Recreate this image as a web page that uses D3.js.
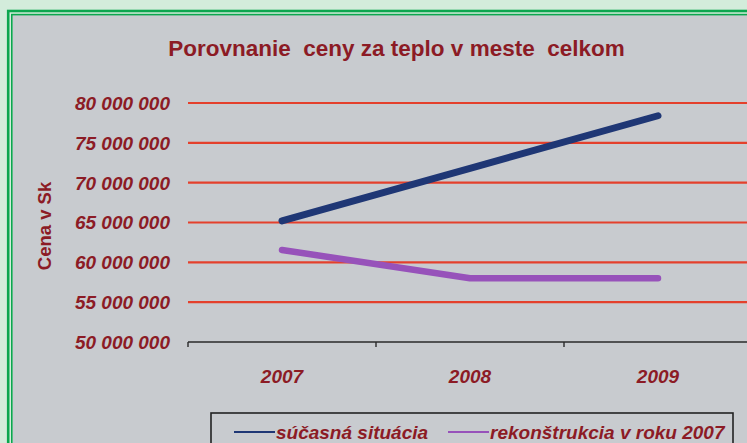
<!DOCTYPE html>
<html>
<head>
<meta charset="utf-8">
<script src="https://cdn.jsdelivr.net/npm/d3@7"></script>
<style>
  html, body { margin: 0; padding: 0; background: #d3ecdb; }
  svg { display: block; font-family: "Liberation Sans", Arial, sans-serif; }
</style>
</head>
<body>
<svg id="chart"></svg>
<script>
'use strict';

var years = ['2007', '2008', '2009'];
var currentValues = [65200000, 71800000, 78400000];
var reconstructionValues = [61550000, 58000000, 58000000];
var seriesNames = ['súčasná situácia', 'rekonštrukcia v roku 2007'];
var seriesColors = ['#1f3775', '#9752ba'];
var yTicks = [50000000, 55000000, 60000000, 65000000, 70000000, 75000000, 80000000];

var width = 747;
var height = 443;
var textColor = '#8c1b25';

var svg = d3.select('#chart')
  .attr('width', width)
  .attr('height', height);

// outer green frame + gray panel
svg.append('rect')
  .attr('x', 12.5).attr('y', 15)
  .attr('width', width).attr('height', height)
  .style('fill', '#c8cbcf');

svg.append('rect')
  .attr('x', 8.2).attr('y', 11)
  .attr('width', width).attr('height', height)
  .style('fill', 'none')
  .style('stroke', '#0ba64e')
  .style('stroke-width', 2.6);

svg.append('rect')
  .attr('x', 11.8).attr('y', 14.6)
  .attr('width', width).attr('height', height)
  .style('fill', 'none')
  .style('stroke', '#0ba64e')
  .style('stroke-width', 1.6);

svg.append('text')
  .attr('x', 396.5)
  .attr('y', 56)
  .attr('text-anchor', 'middle')
  .style('font-size', '22.5px')
  .style('font-weight', 'bold')
  .style('fill', textColor)
  .style('white-space', 'pre')
  .text('Porovnanie  ceny za teplo v meste  celkom');

var x = d3.scaleBand()
  .domain(years)
  .range([188, 752]);

var y = d3.scaleLinear()
  .domain([50000000, 80000000])
  .range([342, 103]);

var fmt = function(d) {
  return d3.format(',')(d).replace(/,/g, ' ');
};

// gridlines
svg.append('g')
  .selectAll('line')
  .data(yTicks.slice(1))
  .enter()
  .append('line')
  .attr('x1', 188)
  .attr('x2', width)
  .attr('y1', function(d) { return y(d); })
  .attr('y2', function(d) { return y(d); })
  .style('stroke', '#e4402c')
  .style('stroke-width', 2.2);

// y labels
svg.append('g')
  .selectAll('text')
  .data(yTicks)
  .enter()
  .append('text')
  .attr('x', 170)
  .attr('y', function(d) { return y(d); })
  .attr('dy', '0.36em')
  .attr('text-anchor', 'end')
  .style('font-size', '19px')
  .style('font-weight', 'bold')
  .style('font-style', 'italic')
  .style('fill', textColor)
  .text(fmt);

svg.append('text')
  .attr('transform', 'translate(51,226) rotate(-90)')
  .attr('text-anchor', 'middle')
  .style('font-size', '18.5px')
  .style('font-weight', 'bold')
  .style('fill', textColor)
  .text('Cena v Sk');

// x axis line and ticks between categories
var xAxis = svg.append('g');
xAxis.append('line')
  .attr('x1', 188).attr('x2', width)
  .attr('y1', y(50000000)).attr('y2', y(50000000))
  .style('stroke', '#2a2a2a')
  .style('stroke-width', 1.6);

xAxis.selectAll('.tick')
  .data(years)
  .enter()
  .append('line')
  .attr('class', 'tick')
  .attr('x1', function(d) { return x(d); })
  .attr('x2', function(d) { return x(d); })
  .attr('y1', y(50000000))
  .attr('y2', y(50000000) + 5)
  .style('stroke', '#2a2a2a')
  .style('stroke-width', 1.4);

xAxis.selectAll('text')
  .data(years)
  .enter()
  .append('text')
  .attr('x', function(d) { return x(d) + x.bandwidth() / 2; })
  .attr('y', 383)
  .attr('text-anchor', 'middle')
  .style('font-size', '19px')
  .style('font-weight', 'bold')
  .style('font-style', 'italic')
  .style('fill', textColor)
  .text(function(d) { return d; });

// series lines
var series = [currentValues, reconstructionValues];
var lineWidths = [7, 6.5];

var line = d3.line()
  .x(function(d, i) { return x(years[i]) + x.bandwidth() / 2; })
  .y(function(d) { return y(d); });

svg.append('g')
  .selectAll('path')
  .data(series)
  .enter()
  .append('path')
  .attr('d', line)
  .style('fill', 'none')
  .style('stroke', function(d, i) { return seriesColors[i]; })
  .style('stroke-width', function(d, i) { return lineWidths[i]; })
  .style('stroke-linecap', 'round')
  .style('stroke-linejoin', 'round');

// legend
var legend = svg.append('g');
legend.append('rect')
  .attr('x', 211).attr('y', 413)
  .attr('width', 522).attr('height', 40)
  .style('fill', '#c8cbcf')
  .style('stroke', '#222')
  .style('stroke-width', 1.6);

var itemX = [234, 448];
var items = legend.selectAll('.item')
  .data(seriesNames)
  .enter()
  .append('g')
  .attr('class', 'item')
  .attr('transform', function(d, i) { return 'translate(' + itemX[i] + ',432)'; });

items.append('line')
  .attr('x1', 0).attr('x2', 41)
  .style('stroke', function(d, i) { return seriesColors[i]; })
  .style('stroke-width', 2);

items.append('text')
  .attr('x', 42)
  .attr('dy', '0.36em')
  .style('font-size', '19px')
  .style('font-weight', 'bold')
  .style('font-style', 'italic')
  .style('fill', textColor)
  .text(function(d) { return d; });
</script>
</body>
</html>
